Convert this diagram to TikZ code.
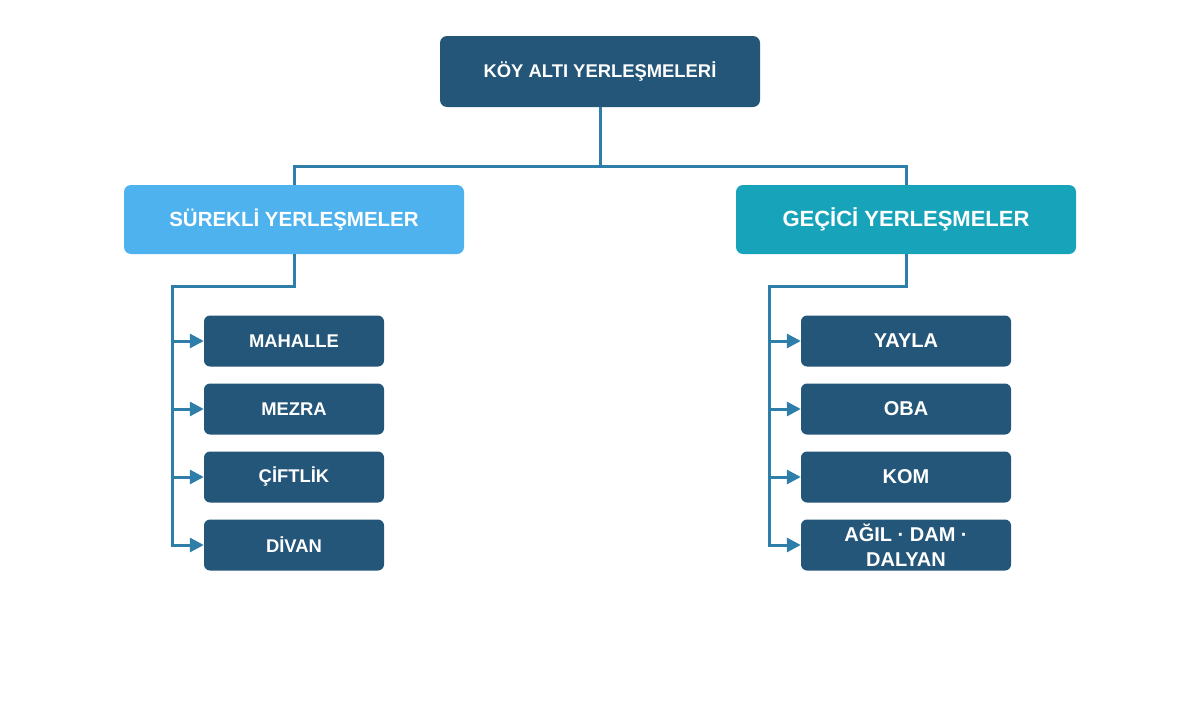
\documentclass[tikz,border=0pt]{standalone}
\usepackage{fontspec}
\setmainfont{Liberation Sans}
\usetikzlibrary{arrows.meta}
\definecolor{darkbox}{HTML}{245679}
\definecolor{lightbox}{HTML}{4DB2EE}
\definecolor{tealbox}{HTML}{17A3B9}
\definecolor{conncol}{HTML}{2E7EAA}
\tikzset{
  box/.style={draw=none, rounded corners=7pt, text=white, font=\bfseries, align=center, inner sep=0pt},
  topbox/.style={box, fill=darkbox, minimum width=320pt, minimum height=71pt, font=\bfseries\fontsize{18.4}{21}\selectfont},
  subbox/.style={box, minimum width=340pt, minimum height=69pt},
  childbox/.style={box, fill=darkbox, rounded corners=6pt, minimum height=51pt},
  conn/.style={draw=conncol, line width=3pt},
  arr/.style={conn, -{Triangle[length=14pt,width=14pt]}},
}
\begin{document}
\begin{tikzpicture}[x=1pt,y=-1pt]
\useasboundingbox (0,0) rectangle (1200,720);
\node[topbox] (top) at (600,71.5) {KÖY ALTI YERLEŞMELERİ};
\node[subbox, fill=lightbox, font=\bfseries\fontsize{20.5}{24}\selectfont] (left) at (294,219.5) {SÜREKLİ YERLEŞMELER};
\node[subbox, fill=tealbox, font=\bfseries\fontsize{22}{26}\selectfont] (right) at (906,219.5) {GEÇİCİ YERLEŞMELER};

\foreach \n/\y/\t in {l1/341/MAHALLE, l2/409/MEZRA, l3/477/ÇİFTLİK, l4/545/DİVAN}{
  \node[childbox, minimum width=180pt, font=\bfseries\fontsize{18.4}{21}\selectfont] (\n) at (294,\y) {\t};
}
\foreach \n/\y/\t in {r1/341/YAYLA, r2/409/OBA, r3/477/KOM}{
  \node[childbox, minimum width=210pt, font=\bfseries\fontsize{20}{24}\selectfont] (\n) at (906,\y) {\t};
}
\node[childbox, minimum width=210pt, font=\bfseries\fontsize{20}{25}\selectfont] (r4) at (906,545) {AĞIL · DAM ·\\DALYAN};

\coordinate (bus) at (600,166);
\draw[conn] (top.south) -- (bus) -| (left.north);
\draw[conn] (bus) -| (right.north);

\coordinate (lbus) at (172,286);
\coordinate (rbus) at (769,286);
\foreach \c in {l1,l2,l3,l4}{
  \draw[arr] (left.south) |- (lbus) |- (\c.west);
}
\foreach \c in {r1,r2,r3,r4}{
  \draw[arr] (right.south) |- (rbus) |- (\c.west);
}
\end{tikzpicture}
\end{document}
